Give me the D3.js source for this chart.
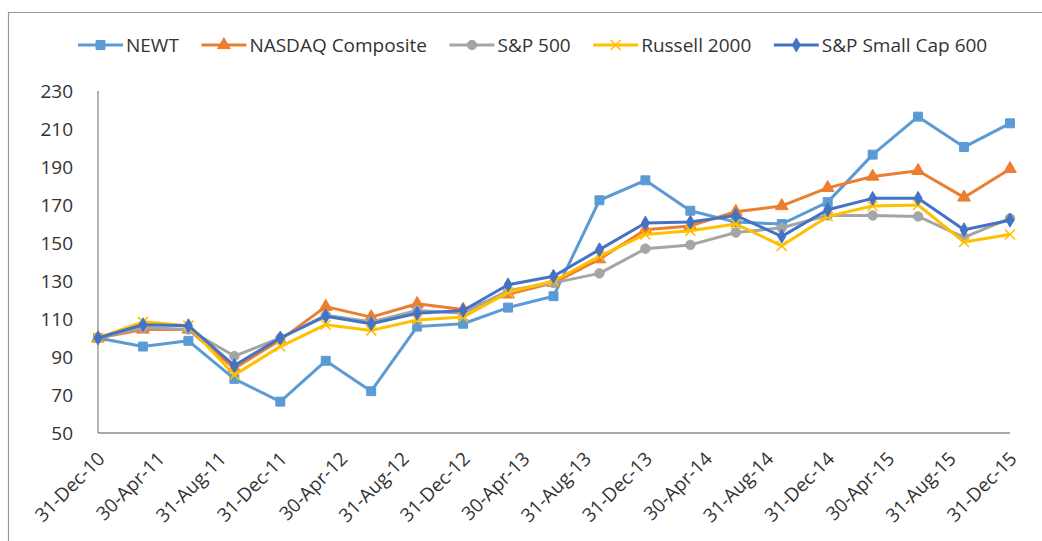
<!DOCTYPE html>
<html>
<head>
<meta charset="utf-8">
<script src="https://cdn.jsdelivr.net/npm/d3@7"></script>
<style>
	body { margin: 0; background: #fff; }
	svg { display: block; font-family: "Open Sans", sans-serif; }
</style>
</head>
<body>
<svg id="chart" width="1042" height="541"></svg>
<script>
// quarter-end dates, values
var dates = ['31-Dec-10', '31-Mar-11', '30-Jun-11', '30-Sep-11', '31-Dec-11', '31-Mar-12', '30-Jun-12',
	'30-Sep-12', '31-Dec-12', '31-Mar-13', '30-Jun-13', '30-Sep-13', '31-Dec-13', '31-Mar-14', '30-Jun-14',
	'30-Sep-14', '31-Dec-14', '31-Mar-15', '30-Jun-15', '30-Sep-15', '31-Dec-15'];
var tickLabels = ['31-Dec-10', '30-Apr-11', '31-Aug-11', '31-Dec-11', '30-Apr-12', '31-Aug-12', '31-Dec-12',
	'30-Apr-13', '31-Aug-13', '31-Dec-13', '30-Apr-14', '31-Aug-14', '31-Dec-14', '30-Apr-15', '31-Aug-15', '31-Dec-15'];
var yTicks = [50, 70, 90, 110, 130, 150, 170, 190, 210, 230];

var seriesNames = ['NEWT', 'NASDAQ Composite', 'S&P 500', 'Russell 2000', 'S&P Small Cap 600'];
var newt = [100, 95.5, 98.5, 78.5, 66.5, 88, 72, 106, 107.5, 116, 122, 172.5, 183, 167, 161, 160, 171.5, 196.5, 216.5, 200.5, 213];
var nasdaq = [100, 104.5, 104.5, 84, 99, 116.5, 111, 118, 115, 123, 129, 141.5, 157, 159, 166.5, 169.5, 179, 185, 188, 174, 189];
var sp500 = [100, 105.5, 104.5, 90.5, 100, 112, 108.5, 114.5, 113, 125, 129, 134, 147, 149, 155.5, 158, 164.5, 164.5, 164, 153, 163];
var russell = [100, 108.5, 106.5, 80.5, 95.5, 107, 104, 109.5, 111, 124, 130, 143, 154.5, 156.5, 160, 148.5, 164, 169.5, 170, 150.5, 154.5];
var sp600 = [100, 107, 106.5, 85.5, 100, 111.5, 107.5, 113, 114.5, 128, 132.5, 146.5, 160.5, 161, 164.5, 153.5, 167.5, 173.5, 173.5, 157, 162];

var colors = ['#5B9BD5', '#ED7D31', '#A5A5A5', '#FFC000', '#4472C4'];
var symbols = [d3.symbolSquare, d3.symbolTriangle, d3.symbolCircle, d3.symbolCross, d3.symbolDiamond];

var parse = d3.timeParse('%d-%b-%y');
var allValues = [newt, nasdaq, sp500, russell, sp600];
var series = seriesNames.map(function (name, i) {
	return {
		name: name,
		color: colors[i],
		symbol: symbols[i],
		values: allValues[i].map(function (v, j) { return { date: parse(dates[j]), value: v }; })
	};
});

var svg = d3.select('#chart');
var textColor = '#333';

// chart border (only top and left show in the picture)
svg.append('path')
	.attr('d', 'M8.5,541V12.5H1042')
	.attr('fill', 'none')
	.attr('stroke', '#9a9a9a')
	.attr('stroke-width', 1.2);

var x = d3.scaleTime()
	.domain([parse(dates[0]), parse(dates[dates.length - 1])])
	.range([98, 1010]);
var y = d3.scaleLinear()
	.domain([50, 230])
	.range([433, 91]);

// axes
svg.append('line')
	.attr('x1', 98).attr('x2', 98)
	.attr('y1', y(230)).attr('y2', y(50))
	.attr('stroke', '#8c8c8c').attr('stroke-width', 1.3);
svg.append('line')
	.attr('x1', 98).attr('x2', 1010)
	.attr('y1', y(50)).attr('y2', y(50))
	.attr('stroke', '#8c8c8c').attr('stroke-width', 1.3);

svg.append('g').selectAll('text')
	.data(yTicks)
	.join('text')
	.attr('x', 73)
	.attr('y', function (d) { return y(d); })
	.attr('dy', '0.36em')
	.attr('text-anchor', 'end')
	.attr('font-size', 19)
	.attr('fill', textColor)
	.text(function (d) { return d; });

svg.append('g').selectAll('text')
	.data(tickLabels)
	.join('text')
	.attr('transform', function (d) { return 'translate(' + (x(parse(d)) + 8) + ',' + 460 + ') rotate(-45)'; })
	.attr('text-anchor', 'end')
	.attr('font-size', 19)
	.attr('fill', textColor)
	.text(function (d) { return d; });

// lines
var line = d3.line()
	.x(function (d) { return x(d.date); })
	.y(function (d) { return y(d.value); });

function markerPath(sym) {
	if (sym === d3.symbolCross) {
		return 'M-5,-5L5,5M-5,5L5,-5';
	}
	var size = sym === d3.symbolCircle ? 70 : (sym === d3.symbolDiamond ? 55 : (sym === d3.symbolTriangle ? 70 : 80));
	return d3.symbol().type(sym).size(size)();
}

series.forEach(function (s) {
	var g = svg.append('g');
	g.append('path')
		.datum(s.values)
		.attr('d', line)
		.attr('fill', 'none')
		.attr('stroke', s.color)
		.attr('stroke-width', 3)
		.attr('stroke-linejoin', 'round');
	g.selectAll('path.mark')
		.data(s.values)
		.join('path')
		.attr('class', 'mark')
		.attr('transform', function (d) { return 'translate(' + x(d.date) + ',' + y(d.value) + ')'; })
		.attr('d', markerPath(s.symbol))
		.attr('fill', s.color)
		.attr('stroke', s.color)
		.attr('stroke-width', s.symbol === d3.symbolCross ? 1.6 : 1);
});

// legend
var legend = svg.append('g');
var lx = 78;
series.forEach(function (s) {
	var g = legend.append('g').attr('transform', 'translate(' + lx + ',45)');
	g.append('line')
		.attr('x1', 0).attr('x2', 45)
		.attr('stroke', s.color).attr('stroke-width', 3);
	g.append('path')
		.attr('transform', 'translate(22.5,0)')
		.attr('d', markerPath(s.symbol))
		.attr('fill', s.color)
		.attr('stroke', s.color)
		.attr('stroke-width', s.symbol === d3.symbolCross ? 1.6 : 1);
	var t = g.append('text')
		.attr('x', 48)
		.attr('dy', '0.36em')
		.attr('font-size', 19)
		.attr('fill', textColor)
		.text(s.name);
	lx += 48 + t.node().getComputedTextLength() + 22.5;
});
</script>
</body>
</html>
